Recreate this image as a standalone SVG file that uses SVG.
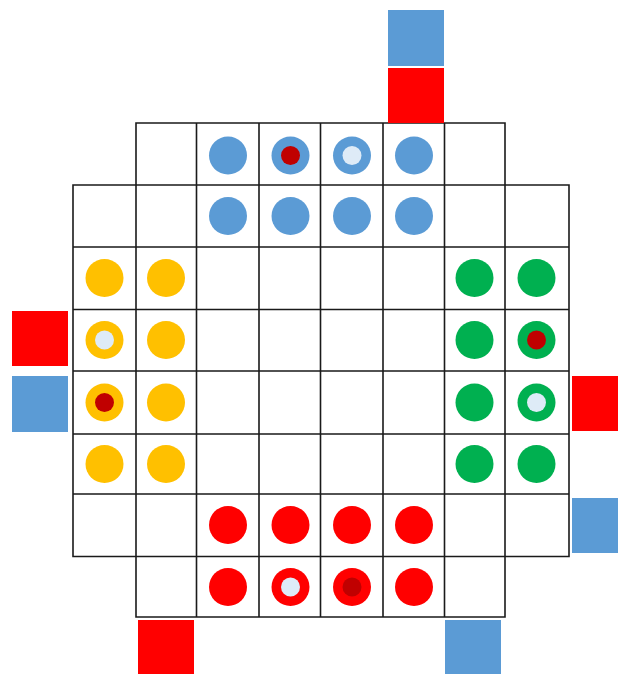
<svg xmlns="http://www.w3.org/2000/svg" width="618" height="674" viewBox="0 0 618 674">
<style>
.grid{fill:none;stroke:#1a1a1a;stroke-width:1.6;stroke-linecap:square}
.b{fill:#5b9bd5}.r{fill:#ff0000}.y{fill:#ffc000}.g{fill:#00b050}
.lt{fill:#deebf7}.dr{fill:#c00000}
</style>
<defs>
<circle id="pc" r="19"/>
<circle id="ic" r="9.5"/>
</defs>
<rect width="618" height="674" fill="#ffffff"/>
<g id="board">
<path class="grid" d="M136,123H505 M73,185H569 M73,247H569 M73,309.5H569 M73,371H569 M73,434H569 M73,494H569 M73,556.5H569 M136,617H505
M73,185V556.5 M136,123V617 M196.5,123V617 M259,123V617 M320.5,123V617 M383,123V617 M444.5,123V617 M505,123V617 M569,185V556.5"/>
</g>
<g id="squares">
<rect class="b" x="388" y="10" width="56" height="56"/>
<rect class="r" x="388" y="68" width="56" height="55"/>
<rect class="r" x="12" y="311" width="56" height="55"/>
<rect class="b" x="12" y="376" width="56" height="56"/>
<rect class="r" x="572" y="376" width="46" height="55"/>
<rect class="b" x="572" y="498" width="46" height="55"/>
<rect class="r" x="138" y="620" width="56" height="54"/>
<rect class="b" x="445" y="620" width="56" height="54"/>
</g>
<g id="blue">
<use href="#pc" class="b" x="228" y="155.5"/>
<use href="#pc" class="b" x="290.5" y="155.5"/>
<use href="#ic" class="dr" x="290.5" y="155.5"/>
<use href="#pc" class="b" x="352" y="155.5"/>
<use href="#ic" class="lt" x="352" y="155.5"/>
<use href="#pc" class="b" x="414" y="155.5"/>
<use href="#pc" class="b" x="228" y="216"/>
<use href="#pc" class="b" x="290.5" y="216"/>
<use href="#pc" class="b" x="352" y="216"/>
<use href="#pc" class="b" x="414" y="216"/>
</g>
<g id="yellow">
<use href="#pc" class="y" x="104.5" y="278"/>
<use href="#pc" class="y" x="166" y="278"/>
<use href="#pc" class="y" x="104.5" y="340"/>
<use href="#ic" class="lt" x="104.5" y="340"/>
<use href="#pc" class="y" x="166" y="340"/>
<use href="#pc" class="y" x="104.5" y="402.5"/>
<use href="#ic" class="dr" x="104.5" y="402.5"/>
<use href="#pc" class="y" x="166" y="402.5"/>
<use href="#pc" class="y" x="104.5" y="464"/>
<use href="#pc" class="y" x="166" y="464"/>
</g>
<g id="green">
<use href="#pc" class="g" x="474.5" y="278"/>
<use href="#pc" class="g" x="536.5" y="278"/>
<use href="#pc" class="g" x="474.5" y="340"/>
<use href="#pc" class="g" x="536.5" y="340"/>
<use href="#ic" class="dr" x="536.5" y="340"/>
<use href="#pc" class="g" x="474.5" y="402.5"/>
<use href="#pc" class="g" x="536.5" y="402.5"/>
<use href="#ic" class="lt" x="536.5" y="402.5"/>
<use href="#pc" class="g" x="474.5" y="464"/>
<use href="#pc" class="g" x="536.5" y="464"/>
</g>
<g id="red">
<use href="#pc" class="r" x="228" y="525"/>
<use href="#pc" class="r" x="290.5" y="525"/>
<use href="#pc" class="r" x="352" y="525"/>
<use href="#pc" class="r" x="414" y="525"/>
<use href="#pc" class="r" x="228" y="587"/>
<use href="#pc" class="r" x="290.5" y="587"/>
<use href="#ic" class="lt" x="290.5" y="587"/>
<use href="#pc" class="r" x="352" y="587"/>
<use href="#ic" class="dr" x="352" y="587"/>
<use href="#pc" class="r" x="414" y="587"/>
</g>
</svg>
